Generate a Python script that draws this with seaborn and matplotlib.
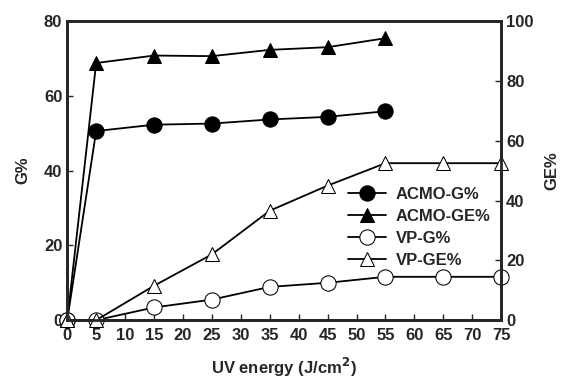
import pandas as pd
import seaborn as sns
import matplotlib.pyplot as plt
import numpy as np

# UV energy (J/cm2)
uv_acmo = [0, 5, 15, 25, 35, 45, 55]
uv_vp = [0, 5, 15, 25, 35, 45, 55, 65, 75]

acmo_g = [0, 50.6, 52.3, 52.6, 53.7, 54.4, 55.9]
acmo_ge = [0, 86.0, 88.5, 88.3, 90.4, 91.3, 94.3]
vp_g = [0, 0, 3.4, 5.5, 8.9, 10.0, 11.6, 11.6, 11.6]
vp_ge = [0, 0, 11.5, 22.0, 36.6, 45.0, 52.5, 52.5, 52.5]

x_ticks = list(range(0, 80, 5))

sns.set_style("ticks")
plt.rcParams['font.family'] = ['Liberation Sans', 'DejaVu Sans']
plt.rcParams['font.weight'] = 'bold'
plt.rcParams['mathtext.default'] = 'bf'

fig, ax = plt.subplots(figsize=(5.65, 3.78), dpi=100)
fig.subplots_adjust(left=0.119, right=0.887, top=0.944, bottom=0.153)
ax2 = ax.twinx()

line_kw = dict(color='black', linewidth=1.3, markeredgecolor='black', clip_on=False)

sns.lineplot(x=uv_acmo, y=acmo_g, ax=ax, marker='o', markersize=11,
             markerfacecolor='black', label='ACMO-G%', **line_kw)
sns.lineplot(x=uv_vp, y=vp_g, ax=ax, marker='o', markersize=11,
             markerfacecolor='white', label='VP-G%', **line_kw)
sns.lineplot(x=uv_acmo, y=acmo_ge, ax=ax2, marker='^', markersize=10,
             markerfacecolor='black', label='ACMO-GE%', **line_kw)
sns.lineplot(x=uv_vp, y=vp_ge, ax=ax2, marker='^', markersize=10,
             markerfacecolor='white', label='VP-GE%', **line_kw)

h1, l1 = ax.get_legend_handles_labels()
h2, l2 = ax2.get_legend_handles_labels()
ax.get_legend().remove()
handles = [h1[0], h2[0], h1[1], h2[1]]
labels = [l1[0], l2[0], l1[1], l2[1]]
leg = ax2.legend(handles, labels, loc='upper left', bbox_to_anchor=(0.647, 0.447),
                 frameon=False, handlelength=2.3, handletextpad=0.55,
                 labelspacing=0.42, borderaxespad=0, borderpad=0,
                 prop={'weight': 'bold', 'size': 12})

ax.set_xlim(0, 75)
ax.set_ylim(0, 80)
ax2.set_ylim(0, 100)
ax.set_xticks(x_ticks)
ax.set_yticks([0, 20, 40, 60, 80])
ax2.set_yticks([0, 20, 40, 60, 80, 100])

ax.set_xlabel('UV energy (J/cm$^2$)', fontsize=12, fontweight='bold', labelpad=9)
ax.set_ylabel('G%', fontsize=12, fontweight='bold', labelpad=10)
ax2.set_ylabel('GE%', fontsize=12, fontweight='bold', labelpad=8)

for a in (ax, ax2):
    a.tick_params(direction='in', length=4, width=1, labelsize=12)
    for s in a.spines.values():
        s.set_linewidth(2)
        s.set_visible(True)
    plt.setp(a.get_xticklabels() + a.get_yticklabels(), fontweight='bold')
ax.tick_params(axis='x', pad=6)

plt.savefig('out.png', dpi=100)
